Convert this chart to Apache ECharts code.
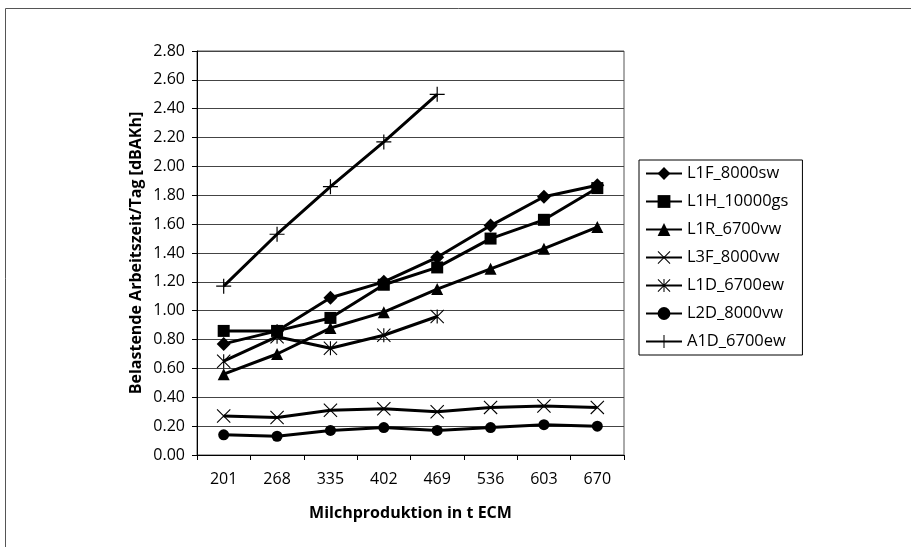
<!DOCTYPE html>
<html>
<head>
<meta charset="utf-8">
<script src="https://cdn.jsdelivr.net/npm/echarts@6/dist/echarts.min.js"></script>
<style>
  html, body { margin: 0; padding: 0; background: #fff; }
  #chart { width: 911px; height: 547px; }
</style>
</head>
<body>
<div id="chart"></div>
<script>
// categories (Milchproduktion in t ECM)
const categories = ['201', '268', '335', '402', '469', '536', '603', '670'];

// series values
const l1f = [0.77, 0.86, 1.09, 1.20, 1.37, 1.59, 1.79, 1.87];
const l1h = [0.86, 0.86, 0.95, 1.18, 1.30, 1.50, 1.63, 1.85];
const l1r = [0.56, 0.70, 0.88, 0.99, 1.15, 1.29, 1.43, 1.58];
const l3f = [0.27, 0.26, 0.31, 0.32, 0.30, 0.33, 0.34, 0.33];
const l1d = [0.65, 0.82, 0.74, 0.83, 0.96];
const l2d = [0.14, 0.13, 0.17, 0.19, 0.17, 0.19, 0.21, 0.20];
const a1d = [1.17, 1.53, 1.86, 2.17, 2.50];

const seriesNames = ['L1F_8000sw', 'L1H_10000gs', 'L1R_6700vw', 'L3F_8000vw', 'L1D_6700ew', 'L2D_8000vw', 'A1D_6700ew'];

// marker shapes
const plusPath = 'path://M9.2,0H10.8V9.2H20V10.8H10.8V20H9.2V10.8H0V9.2H9.2Z';
const crossPath = 'path://M0,1.1L1.1,0L20,18.9L18.9,20Z M18.9,0L20,1.1L1.1,20L0,18.9Z';
const starPath = 'path://M0,1.1L1.1,0L20,18.9L18.9,20Z M18.9,0L20,1.1L1.1,20L0,18.9Z M9.2,0H10.8V20H9.2Z';

function mk(name, data, symbol, size) {
  return {
    name: name,
    type: 'line',
    data: data,
    symbol: symbol,
    symbolSize: size,
    showAllSymbol: true,
    lineStyle: { color: '#000', width: 3 },
    itemStyle: { color: '#000', borderColor: '#000', borderWidth: 0 },
    emphasis: { disabled: true },
    z: 3
  };
}

const chart = echarts.init(document.getElementById('chart'));
chart.setOption({
  animation: false,
  textStyle: { fontFamily: 'Open Sans, Noto Sans, sans-serif', color: '#000' },
  graphic: [{
    type: 'rect',
    shape: { x: 5.5, y: 8.5, width: 1200, height: 1200 },
    style: { fill: 'none', stroke: '#555', lineWidth: 1 },
    silent: true
  }],
  grid: {
    left: 197, top: 51, right: 287, bottom: 92,
    show: true, borderColor: '#555', borderWidth: 1, backgroundColor: 'transparent'
  },
  legend: {
    orient: 'vertical',
    left: 639, top: 160,
    padding: [5, 14, 5, 6],
    itemGap: 11,
    itemWidth: 36,
    itemHeight: 16,
    borderColor: '#000',
    borderWidth: 1,
    textStyle: { fontSize: 16.5, color: '#000' },
    data: seriesNames
  },
  xAxis: {
    type: 'category',
    data: categories,
    boundaryGap: true,
    name: 'Milchproduktion in t ECM',
    nameLocation: 'middle',
    nameGap: 50,
    nameTextStyle: { fontSize: 16, fontWeight: 'bold', color: '#000' },
    axisLine: { lineStyle: { color: '#000', width: 1 } },
    axisTick: { show: true, length: 5, lineStyle: { color: '#000' } },
    axisLabel: { fontSize: 16, color: '#000', margin: 16 },
    splitLine: { show: false }
  },
  yAxis: {
    type: 'value',
    min: 0, max: 2.8, interval: 0.2,
    name: 'Belastende Arbeitszeit/Tag [dBAKh]',
    nameLocation: 'middle',
    nameGap: 53,
    nameTextStyle: { fontSize: 16, fontWeight: 'bold', color: '#000' },
    axisLine: { show: true, lineStyle: { color: '#000', width: 1 } },
    axisTick: { show: true, length: 5, lineStyle: { color: '#000' } },
    axisLabel: { fontSize: 16, color: '#000', margin: 12, formatter: v => v.toFixed(2) },
    splitLine: { show: true, lineStyle: { color: '#444', width: 1 } }
  },
  series: [
    mk(seriesNames[0], l1f, 'diamond', 14),
    mk(seriesNames[1], l1h, 'rect', 12),
    mk(seriesNames[2], l1r, 'triangle', 12),
    mk(seriesNames[3], l3f, crossPath, 14),
    mk(seriesNames[4], l1d, starPath, 14),
    mk(seriesNames[5], l2d, 'circle', 11),
    mk(seriesNames[6], a1d, plusPath, 15)
  ]
});
</script>
</body>
</html>
